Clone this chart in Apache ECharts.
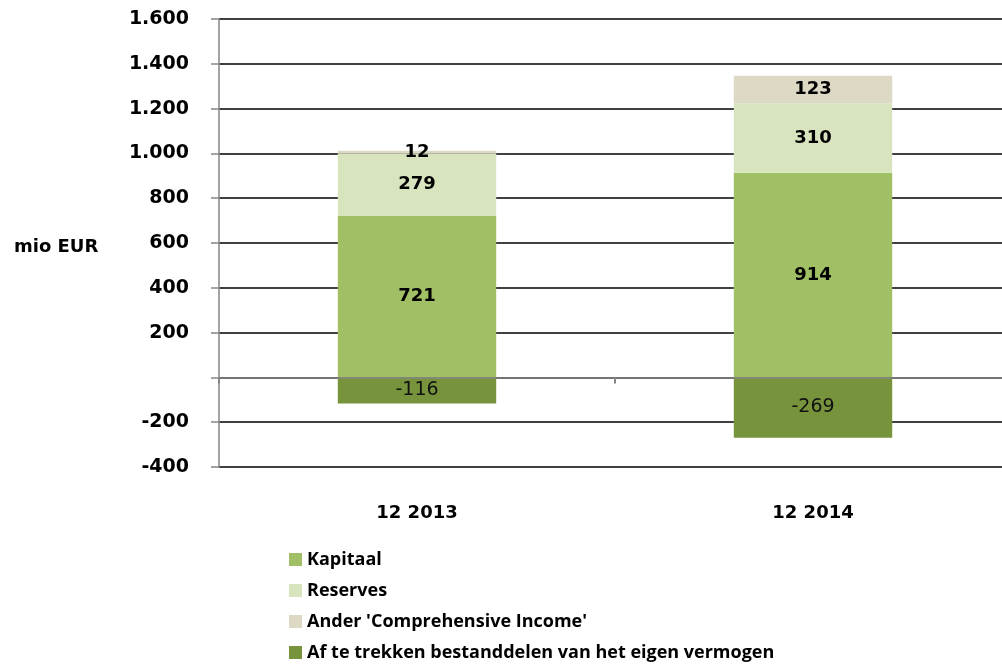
<!DOCTYPE html>
<html>
<head>
<meta charset="utf-8">
<script src="https://cdn.jsdelivr.net/npm/echarts@6/dist/echarts.min.js"></script>
<style>
body{margin:0;background:#fff;}
#main{width:1002px;height:667px;}
</style>
</head>
<body>
<div id="main"></div>
<script>
var categories = ['12 2013', '12 2014'];
var kapitaal = [721, 914];
var reserves = [279, 310];
var anderIncome = [12, 123];
var aftrek = [-116, -269];
var seriesNames = ['Kapitaal', 'Reserves', "Ander 'Comprehensive Income'", 'Af te trekken bestanddelen van het eigen vermogen'];

function eigenVermogen(){
    var dom = document.getElementById("main");
    var myChart = echarts.init(dom);
    var option = null;
    var axisFont = 'DejaVu Sans';

    var boldLabel = {
        show: true,
        position: 'inside',
        color: '#000',
        fontFamily: axisFont,
        fontWeight: 'bold',
        fontSize: 18
    };

    option = {
        backgroundColor: '#fff',
        animation: false,
        title: {
            text: 'mio EUR',
            left: 9,
            top: 233,
            textStyle: {fontFamily: axisFont, fontWeight: 'bold', fontSize: 18, color: '#000'}
        },
        legend: {
            orient: 'vertical',
            left: 284,
            top: 545,
            height: 120,
            itemWidth: 13,
            itemHeight: 13,
            itemGap: 12,
            icon: 'rect',
            data: seriesNames,
            textStyle: {fontFamily: 'Open Sans', fontWeight: 'bold', fontSize: 18, lineHeight: 19, color: '#000'}
        },
        grid: {
            left: 219,
            top: 19,
            width: 792,
            bottom: 200,
            outerBoundsMode: 'none'
        },
        xAxis: {
            type: 'category',
            data: categories,
            z: 10,
            axisLine: {onZero: true, lineStyle: {color: '#868686', width: 1.5}},
            axisTick: {show: true, length: 6, lineStyle: {color: '#868686', width: 2}},
            axisLabel: {
                margin: 37,
                color: '#000',
                fontFamily: axisFont,
                fontWeight: 'bold',
                fontSize: 18
            }
        },
        yAxis: {
            type: 'value',
            min: -400,
            max: 1600,
            interval: 200,
            axisLine: {show: true, lineStyle: {color: '#868686', width: 1.5}},
            axisTick: {show: true, inside: false, length: 8, lineStyle: {color: '#868686', width: 1.5}},
            splitLine: {lineStyle: {color: '#000', width: 1.5}},
            axisLabel: {
                margin: 30,
                color: '#000',
                fontFamily: axisFont,
                fontWeight: 'bold',
                fontSize: 19,
                formatter: function (v) {
                    if (v === 0) return '';
                    var s = String(Math.abs(v));
                    if (s.length > 3) s = s.slice(0, s.length - 3) + '.' + s.slice(s.length - 3);
                    return (v < 0 ? '-' : '') + s;
                }
            }
        },
        series: [
            {
                name: seriesNames[0],
                type: 'bar',
                stack: 'ev',
                barWidth: '40%',
                itemStyle: {color: '#a1bf64'},
                label: boldLabel,
                data: kapitaal
            },
            {
                name: seriesNames[1],
                type: 'bar',
                stack: 'ev',
                itemStyle: {color: '#d8e4bd'},
                label: boldLabel,
                data: reserves
            },
            {
                name: seriesNames[2],
                type: 'bar',
                stack: 'ev',
                itemStyle: {color: '#ddd9c4'},
                label: boldLabel,
                data: anderIncome
            },
            {
                name: seriesNames[3],
                type: 'bar',
                stack: 'ev',
                itemStyle: {color: '#77933c'},
                label: {
                    show: true,
                    position: 'inside',
                    color: '#111',
                    fontFamily: axisFont,
                    fontSize: 19
                },
                data: aftrek
            }
        ]
    };

    if (option && typeof option === "object") {
        myChart.setOption(option, true);
    }
}
eigenVermogen();
</script>
</body>
</html>
